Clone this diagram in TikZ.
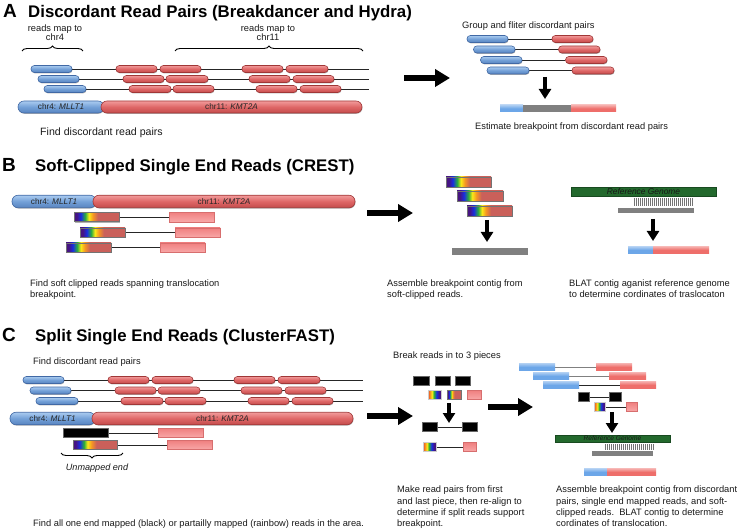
\documentclass[tikz,border=0pt]{standalone}
\usepackage{fontspec}
\setmainfont{Liberation Sans}
\usetikzlibrary{arrows.meta,decorations.pathreplacing,shadows}
\pgfdeclarelayer{bg}
\pgfsetlayers{bg,main}
\definecolor{bluefill}{RGB}{115,160,215}
\definecolor{bluetop}{RGB}{170,203,240}
\definecolor{bluebot}{RGB}{88,132,192}
\definecolor{blueedge}{RGB}{65,105,165}
\definecolor{redfill}{RGB}{222,102,102}
\definecolor{redtop}{RGB}{242,155,155}
\definecolor{redbot}{RGB}{196,76,76}
\definecolor{rededge}{RGB}{160,55,55}
\definecolor{pinkfill}{RGB}{240,128,128}
\definecolor{pinktop}{RGB}{248,168,168}
\definecolor{pinkedge}{RGB}{215,110,110}
\definecolor{flatblue}{RGB}{108,166,232}
\definecolor{flatred}{RGB}{238,110,106}
\definecolor{graybar}{RGB}{128,128,128}
\definecolor{genome}{RGB}{35,105,45}
\definecolor{rbV}{RGB}{70,20,130}
\definecolor{rbB}{RGB}{25,45,225}
\definecolor{rbG}{RGB}{45,175,60}
\definecolor{rbY}{RGB}{250,232,25}
\definecolor{rbO}{RGB}{245,150,35}
\definecolor{rbR}{RGB}{202,96,90}
\definecolor{rbRo}{RGB}{235,70,40}
\pgfdeclarehorizontalshading{rbred}{100bp}{color(0bp)=(rbV); color(25bp)=(rbV); color(28bp)=(rbV); color(32.5bp)=(rbB); color(37.5bp)=(rbG); color(41.5bp)=(rbY); color(46bp)=(rbO); color(51.5bp)=(rbR); color(100bp)=(rbR)}
\pgfdeclarehorizontalshading{rbrev}{100bp}{color(0bp)=(rbRo); color(25bp)=(rbRo); color(33bp)=(rbO); color(40bp)=(rbY); color(48bp)=(rbG); color(58bp)=(rbB); color(68bp)=(rbV); color(75bp)=(rbV); color(100bp)=(rbV)}
\newcommand\chrfont{\fontsize{8.2}{10}\selectfont}
\newcommand\rdbox[6]{\node[#1, minimum width={#4-#3}, minimum height=#6] (#2) at ({(#3+#4)/2},#5) {};}
\begin{document}
\begin{tikzpicture}[x=1pt,y=-1pt,
 shd/.style={drop shadow={shadow xshift=0.5pt,shadow yshift=-0.8pt,opacity=0.3,fill=black}},
 capsule/.style={rectangle, rounded corners=3.3pt, inner sep=0pt, line width=0.6pt, shd},
 bcap/.style={capsule, draw=blueedge, top color=bluetop, bottom color=bluebot, middle color=bluefill},
 rcap/.style={capsule, draw=rededge, top color=redtop, bottom color=redbot, middle color=redfill},
 chrb/.style={bcap, rounded corners=6pt, font=\chrfont, text=black!85},
 chrr/.style={rcap, rounded corners=6pt, font=\chrfont, text=black!85},
 rbox/.style={rectangle, inner sep=0pt, draw=black!55, line width=0.5pt, shade, shading=rbred, shd},
 rrev/.style={rectangle, inner sep=0pt, draw=black!20, line width=0.3pt, shade, shading=rbrev},
 pbox/.style={rectangle, inner sep=0pt, draw=pinkedge, line width=0.4pt, top color=pinkfill, bottom color=pinktop, shd},
 kbox/.style={rectangle, inner sep=0pt, fill=black, draw=black!60, line width=0.4pt},
 bflat/.style={rectangle, inner sep=0pt, top color=flatblue!55!white, bottom color=flatblue, middle color=flatblue},
 rflat/.style={rectangle, inner sep=0pt, top color=flatred!55!white, bottom color=flatred, middle color=flatred},
 gflat/.style={rectangle, inner sep=0pt, fill=graybar},
 gen/.style={rectangle, inner sep=0pt, fill=genome, draw=genome!70!black, line width=0.3pt, text=black!90},
 lnk/.style={line width=0.9pt, black!85},
 glnk/.style={line width=0.9pt, black!50},
 big/.style={line width=6.5pt, -{Triangle[length=15pt,width=17pt]}},
 down/.style={line width=3.8pt, -{Triangle[length=10pt,width=12pt]}},
 brc/.style={decorate, decoration={brace, amplitude=5pt}, line width=0.9pt},
 txt/.style={inner sep=0pt, anchor=base west, font=\fontsize{9.3}{11.3}\selectfont, text=black!90},
 ctxt/.style={txt, anchor=base},
 ttl/.style={inner sep=0pt, anchor=base west, font=\fontsize{16.8}{20}\selectfont\bfseries},
 lett/.style={inner sep=0pt, anchor=base west, font=\fontsize{19}{22}\selectfont\bfseries}]
\useasboundingbox (0,0) rectangle (738,529);

% ================= A =================
\node[lett] (LA) at (3,18) {A};
\node[ttl] (TA) at (28,18) {Discordant Read Pairs (Breakdancer and Hydra)};
\node[ctxt] (ma1) at (55,32) {reads map to};
\node[ctxt] (ma2) at (55,40.5) {chr4};
\node[ctxt] (mb1) at (268,32) {reads map to};
\node[ctxt] (mb2) at (268,40.5) {chr11};
\draw[brc] (22,51) -- (83,51);
\draw[brc] (175,51) -- (363,51);

\rdbox{bcap}{a1b}{31}{72}{69}{7}
\rdbox{rcap}{a1r1}{116}{157}{69}{7}
\rdbox{rcap}{a1r2}{160}{201}{69}{7}
\rdbox{rcap}{a1r3}{242}{283}{69}{7}
\rdbox{rcap}{a1r4}{286}{328}{69}{7}
\rdbox{bcap}{a2b}{38}{79}{79}{7}
\rdbox{rcap}{a2r1}{123}{164}{79}{7}
\rdbox{rcap}{a2r2}{166}{208}{79}{7}
\rdbox{rcap}{a2r3}{249}{290}{79}{7}
\rdbox{rcap}{a2r4}{293}{334}{79}{7}
\rdbox{bcap}{a3b}{44}{86}{89}{7}
\rdbox{rcap}{a3r1}{129}{171}{89}{7}
\rdbox{rcap}{a3r2}{173}{214}{89}{7}
\rdbox{rcap}{a3r3}{256}{297}{89}{7}
\rdbox{rcap}{a3r4}{300}{341}{89}{7}
\coordinate (a1e) at (369,69);
\coordinate (a2e) at (369,79);
\coordinate (a3e) at (369,89);
\node[chrb, minimum width=86, minimum height=12] (a4) at (61,107) {chr4: \textit{MLLT1}};
\node[chrr, minimum width=261, minimum height=12] (a11) at (231.5,107) {chr11: \textit{KMT2A}};
\node[txt, font=\fontsize{10.6}{12.7}\selectfont] (fa) at (40,135.5) {Find discordant read pairs};

\coordinate (bigA1) at (404,78);
\coordinate (bigA2) at (450,78);
\draw[big] (bigA1) -- (bigA2);

\node[txt] (ga) at (462,28.5) {Group and fliter discordant pairs};
\rdbox{bcap}{g1b}{467}{508}{39}{7}
\rdbox{rcap}{g1r}{552}{593}{39}{7}
\rdbox{bcap}{g2b}{473.5}{515}{49.5}{7}
\rdbox{rcap}{g2r}{558.5}{600}{49.5}{7}
\rdbox{bcap}{g3b}{480.5}{522}{60}{7}
\rdbox{rcap}{g3r}{565.5}{607}{60}{7}
\rdbox{bcap}{g4b}{487}{529}{70.5}{7}
\rdbox{rcap}{g4r}{572}{614}{70.5}{7}
\coordinate (dA1) at (545,77);
\coordinate (dA2) at (545,99);
\draw[down] (dA1) -- (dA2);
\rdbox{bflat}{acb}{500}{523}{108.5}{7}
\rdbox{gflat}{acg}{523}{571}{108.5}{7}
\rdbox{rflat}{acr}{571}{616}{108.5}{7}
\node[txt] (ea) at (475,129.5) {Estimate breakpoint from discordant read pairs};

% ================= B =================
\node[lett] (LB) at (2,171.7) {B};
\node[ttl] (TB) at (35,171.7) {Soft-Clipped Single End Reads (CREST)};
\node[chrb, minimum width=84, minimum height=12.5] (b4) at (54,201.5) {chr4: \textit{MLLT1}};
\node[chrr, minimum width=262, minimum height=12.5] (b11) at (224,201.5) {chr11: \textit{KMT2A}};
\rdbox{rbox}{s1}{74}{119}{217}{9.5}
\rdbox{pbox}{s1p}{169}{214}{217}{9.5}
\rdbox{rbox}{s2}{80}{125}{232.7}{9.5}
\rdbox{pbox}{s2p}{175}{220}{232.7}{9.5}
\rdbox{rbox}{s3}{66}{111}{247.7}{9.5}
\rdbox{pbox}{s3p}{160}{205}{247.7}{9.5}
\node[txt] (fb1) at (30,286.5) {Find soft clipped reads spanning translocation};
\node[txt] (fb2) at (30,297.5) {breakpoint.};

\coordinate (bigB1) at (367,213);
\coordinate (bigB2) at (413,213);
\draw[big] (bigB1) -- (bigB2);

\rdbox{rbox}{m1}{446}{491}{182}{10}
\rdbox{rbox}{m2}{457}{503}{196}{10}
\rdbox{rbox}{m3}{467}{512}{211}{10}
\coordinate (dB1) at (487,220);
\coordinate (dB2) at (487,242);
\draw[down] (dB1) -- (dB2);
\rdbox{gflat}{bg1}{452}{528}{251}{7}
\node[txt] (ab1) at (387,286.5) {Assemble breakpoint contig from};
\node[txt] (ab2) at (387,297.5) {soft-clipped reads.};

\node[gen, minimum width=145, minimum height=9, font=\fontsize{8.4}{10}\selectfont\itshape] (rg1) at (643.5,191.5) {Reference Genome};
\foreach \hx in {634,636,...,692} \draw[black!55, line width=0.8pt] (\hx,198) -- (\hx,206);
\rdbox{gflat}{bg2}{618}{694}{210.5}{5.5}
\coordinate (dB3) at (653,219);
\coordinate (dB4) at (653,241);
\draw[down] (dB3) -- (dB4);
\rdbox{bflat}{bcb}{628}{653}{250}{7}
\rdbox{rflat}{bcr}{653}{709}{250}{7}
\node[txt] (bl1) at (569,286.5) {BLAT contig aganist reference genome};
\node[txt] (bl2) at (569,297.5) {to determine cordinates of traslocaton};

% ================= C =================
\node[lett] (LC) at (2,341.7) {C};
\node[ttl] (TC) at (35,341.7) {Split Single End Reads (ClusterFAST)};
\node[txt] (fc) at (33,364.5) {Find discordant read pairs};
\rdbox{bcap}{c1b}{23}{64}{380}{7}
\rdbox{rcap}{c1r1}{108}{149}{380}{7}
\rdbox{rcap}{c1r2}{152}{193}{380}{7}
\rdbox{rcap}{c1r3}{234}{275}{380}{7}
\rdbox{rcap}{c1r4}{278}{320}{380}{7}
\rdbox{bcap}{c2b}{30}{71}{390.5}{7}
\rdbox{rcap}{c2r1}{115}{156}{390.5}{7}
\rdbox{rcap}{c2r2}{158}{200}{390.5}{7}
\rdbox{rcap}{c2r3}{241}{282}{390.5}{7}
\rdbox{rcap}{c2r4}{285}{326}{390.5}{7}
\rdbox{bcap}{c3b}{36}{78}{401}{7}
\rdbox{rcap}{c3r1}{121}{163}{401}{7}
\rdbox{rcap}{c3r2}{165}{206}{401}{7}
\rdbox{rcap}{c3r3}{248}{289}{401}{7}
\rdbox{rcap}{c3r4}{292}{333}{401}{7}
\coordinate (c1e) at (363,380);
\coordinate (c2e) at (363,390.5);
\coordinate (c3e) at (363,401);
\node[chrb, minimum width=85, minimum height=12.5] (c4) at (52.5,418.5) {chr4: \textit{MLLT1}};
\node[chrr, minimum width=261, minimum height=12.5] (c11) at (222.5,418.5) {chr11: \textit{KMT2A}};
\rdbox{kbox}{u1}{63}{108}{433}{9}
\rdbox{pbox}{u1p}{158}{203}{433}{9}
\rdbox{rbox}{u2}{73}{117}{445}{9}
\rdbox{pbox}{u2p}{167}{212}{445}{9}
\draw[brc] (123,453) -- (61,453);
\node[ctxt, font=\fontsize{9.1}{11}\selectfont\itshape] (um) at (97,470.5) {Unmapped end};
\node[txt] (fc2) at (33,526.5) {Find all one end mapped (black) or partailly mapped (rainbow) reads in the area.};

\coordinate (bigC1) at (367,416);
\coordinate (bigC2) at (413,416);
\draw[big] (bigC1) -- (bigC2);

\node[txt] (br) at (393,358.5) {Break reads in to 3 pieces};
\rdbox{kbox}{k1}{413}{429}{381}{9}
\rdbox{kbox}{k2}{435}{450}{381}{9}
\rdbox{kbox}{k3}{455}{470}{381}{9}
\rdbox{rrev}{p1}{428}{441}{395}{9}
\rdbox{rbox}{p2}{447}{461}{395}{9}
\rdbox{pbox}{p3}{467}{481}{395}{9}
\coordinate (dC1) at (449,403);
\coordinate (dC2) at (449,423);
\draw[down] (dC1) -- (dC2);
\rdbox{kbox}{kp1}{422}{437}{427}{9}
\rdbox{kbox}{kp2}{462}{477}{427}{9}
\rdbox{rrev}{rp1}{423}{436}{447}{9}
\rdbox{pbox}{rp2}{463}{476}{447}{9}
\node[txt] (mk1) at (397,492.5) {Make read pairs from first};
\node[txt] (mk2) at (397,504) {and last piece, then re-align to};
\node[txt] (mk3) at (397,515.5) {determine if split reads support};
\node[txt] (mk4) at (397,526.5) {breakpoint.};

\coordinate (bigC3) at (488,407);
\coordinate (bigC4) at (533,407);
\draw[big] (bigC3) -- (bigC4);

\rdbox{bflat}{q1b}{519}{555}{367}{7.5}
\rdbox{rflat}{q1r}{596}{632}{367}{7.5}
\rdbox{bflat}{q2b}{533}{569}{376}{7.5}
\rdbox{rflat}{q2r}{609}{646}{376}{7.5}
\rdbox{bflat}{q3b}{543}{579}{385}{7.5}
\rdbox{rflat}{q3r}{620}{656}{385}{7.5}
\rdbox{kbox}{qk1}{578}{589}{397}{9}
\rdbox{kbox}{qk2}{609}{621}{397}{9}
\rdbox{rrev}{qr1}{594}{605}{407}{9}
\rdbox{pbox}{qr2}{626}{637}{407}{9}
\coordinate (dC3) at (612,412);
\coordinate (dC4) at (612,433);
\draw[down] (dC3) -- (dC4);
\node[gen, minimum width=115, minimum height=7, font=\fontsize{6.6}{8}\selectfont\itshape] (rg2) at (612.5,438.5) {Reference Genome};
\foreach \hx in {605,607,...,653} \draw[black!55, line width=0.7pt] (\hx,444) -- (\hx,450);
\rdbox{gflat}{cg}{592}{653}{453}{5}
\rdbox{bflat}{ccb}{584}{607}{472}{7}
\rdbox{rflat}{ccr}{607}{656}{472}{7}
\node[txt] (as1) at (556,492.5) {Assemble breakpoint contig from discordant};
\node[txt] (as2) at (556,504) {pairs, single end mapped reads, and soft-};
\node[txt] (as3) at (556,515.5) {clipped reads.\ \ BLAT contig to determine};
\node[txt] (as4) at (556,526.5) {cordinates of translocation.};

% ================= connectors (behind) =================
\begin{pgfonlayer}{bg}
\draw[lnk] (a1b.east) -- (a1e);
\draw[lnk] (a2b.east) -- (a2e);
\draw[lnk] (a3b.east) -- (a3e);
\draw[lnk] (g1b.east) -- (g1r.west);
\draw[lnk] (g2b.east) -- (g2r.west);
\draw[lnk] (g3b.east) -- (g3r.west);
\draw[lnk] (g4b.east) -- (g4r.west);
\draw[lnk] (s1.east) -- (s1p.west);
\draw[lnk] (s2.east) -- (s2p.west);
\draw[lnk] (s3.east) -- (s3p.west);
\draw[lnk] (c1b.east) -- (c1e);
\draw[lnk] (c2b.east) -- (c2e);
\draw[lnk] (c3b.east) -- (c3e);
\draw[lnk] (u1.east) -- (u1p.west);
\draw[lnk] (u2.east) -- (u2p.west);
\draw[lnk] (kp1.east) -- (kp2.west);
\draw[lnk] (rp1.east) -- (rp2.west);
\draw[glnk] (q1b.east) -- (q1r.west);
\draw[glnk] (q2b.east) -- (q2r.west);
\draw[lnk] (q3b.east) -- (q3r.west);
\draw[lnk] (qk1.east) -- (qk2.west);
\draw[lnk] (qr1.east) -- (qr2.west);
\end{pgfonlayer}
\end{tikzpicture}
\end{document}
